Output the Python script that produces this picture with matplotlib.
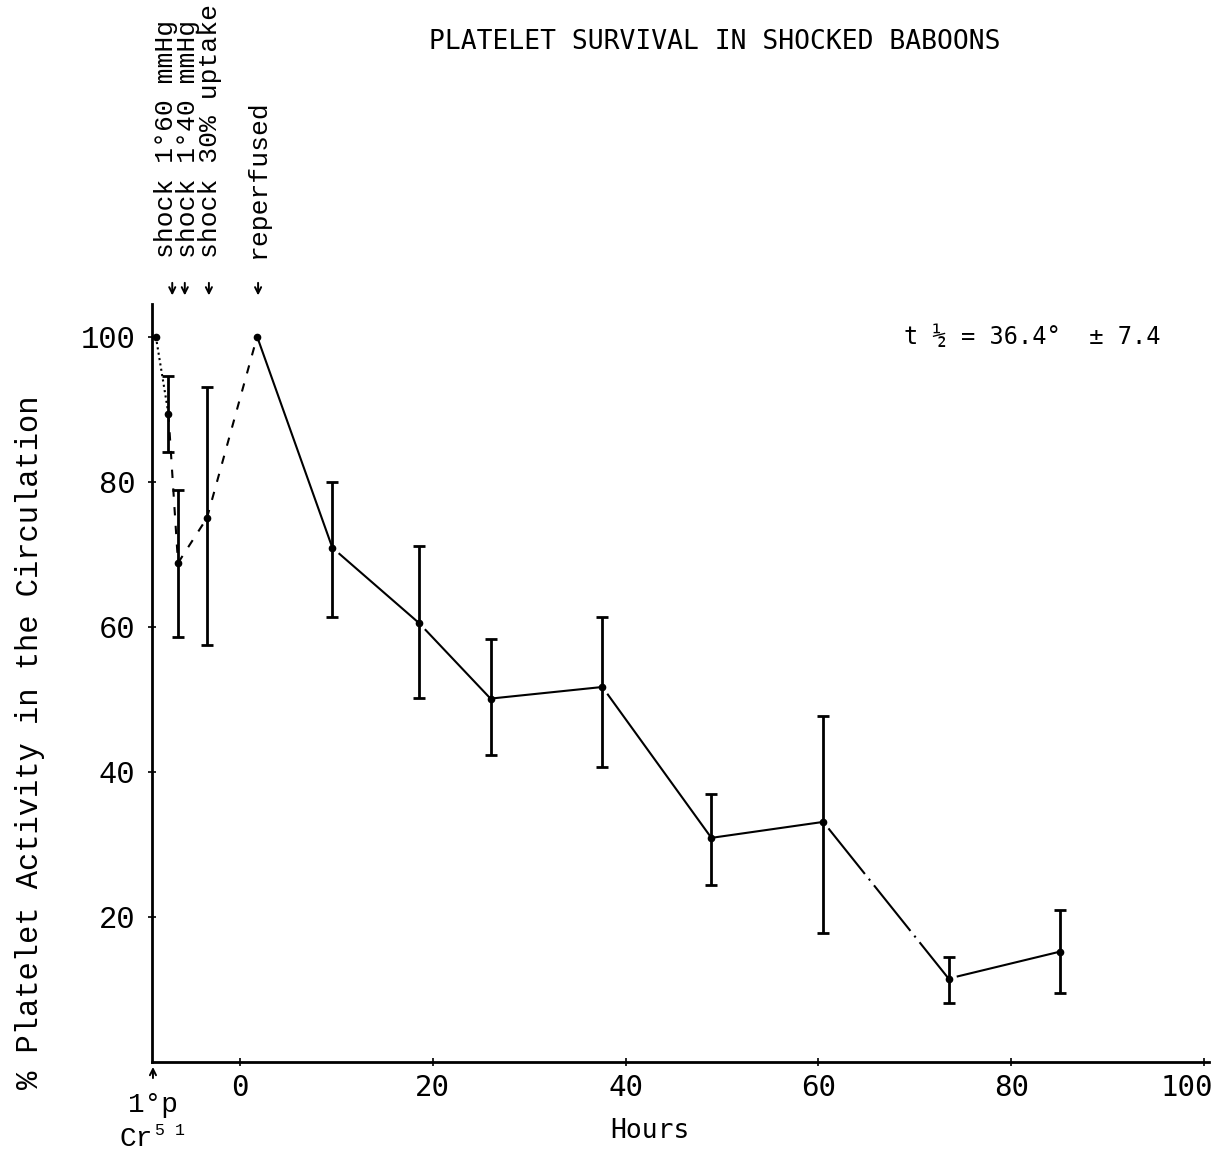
import numpy as np
import matplotlib
matplotlib.use("Agg")
import matplotlib.pyplot as plt
from matplotlib.transforms import ScaledTranslation

# mean platelet activity (% of injected) vs. hours after reperfusion
hours = [-8.7, -7.4, -6.4, -3.4, 1.8, 9.6, 18.6, 26.0, 37.6, 48.9, 60.5, 73.5, 85.0]
activity = [100, 89.4, 68.8, 75.0, 100, 70.9, 60.5, 50.1, 51.7, 30.9, 33.1, 11.5, 15.2]
# range bars (upper / lower ends), nan where the point has no bar
bar_top = [np.nan, 94.6, 78.9, 93.1, np.nan, 79.9, 71.2, 58.3, 61.4, 36.9, 47.7, 14.5, 21.0]
bar_low = [np.nan, 84.1, 58.6, 57.5, np.nan, 61.4, 50.2, 42.3, 40.7, 24.4, 17.8, 8.1, 9.5]

# one line style per joining segment
dotdash_long = (0, (1, 3, 200, 3))
seg_styles = [(0, (1, 1.6)), (0, (4, 5)), (0, (4, 5)), (0, (4, 5)), "-",
              dotdash_long, dotdash_long, "-", dotdash_long,
              "-", (0, (1, 3, 28, 3)), dotdash_long]

event_labels = ["shock 1\u00b060 mmHg", "shock 1\u00b040 mmHg",
                "shock 30% uptake", "reperfused"]
event_text_x = [-7.7, -5.4, -3.1, 1.9]
event_arrow_x = [-7.0, -5.7, -3.2, 1.9]

xticks = [0, 20, 40, 60, 80, 100]
yticks = [20, 40, 60, 80, 100]

MONO = "Liberation Mono"
GOTHIC = "DejaVu Sans Mono"

fig = plt.figure(figsize=(12.19, 11.69), dpi=100)
ax = fig.add_axes([152 / 1219, 1 - 1062 / 1169, (1209 - 152) / 1219, (1062 - 304) / 1169])

hrs = np.array(hours)
act = np.array(activity)
top = np.array(bar_top)
low = np.array(bar_low)

for i, ls in enumerate(seg_styles):
    ax.plot(hrs[i:i + 2], act[i:i + 2], color="black", lw=1.5, linestyle=ls,
            clip_on=False, dash_capstyle="butt")

has_bar = ~np.isnan(top)
ax.errorbar(hrs[has_bar], act[has_bar],
            yerr=[act[has_bar] - low[has_bar], top[has_bar] - act[has_bar]],
            fmt="none", ecolor="black", elinewidth=2, capsize=4, capthick=2)
ax.plot(hrs, act, "o", color="black", ms=4.5, clip_on=False)

ax.set_xlim(-9.1, 100.5)
ax.set_ylim(0, 104.5)
for side in ["top", "right"]:
    ax.spines[side].set_visible(False)
ax.spines["left"].set_linewidth(2)
ax.spines["bottom"].set_linewidth(2)

ax.set_xticks(xticks)
ax.set_yticks(yticks)
ax.tick_params(axis="both", direction="inout", length=6, width=1.2)
ax.tick_params(axis="y", pad=9)
ax.tick_params(axis="x", pad=6)
for lab in ax.get_yticklabels():
    lab.set_fontfamily(MONO)
    lab.set_fontsize(22)
for lab in ax.get_xticklabels():
    lab.set_fontfamily(GOTHIC)
    lab.set_fontsize(21)
# last hour label sits a little left of its tick
last = ax.get_xticklabels()[-1]
last.set_transform(last.get_transform() + ScaledTranslation(-0.17, 0, fig.dpi_scale_trans))

# event markers above the plot
for x, lab in zip(event_text_x, event_labels):
    ax.text(x, 110.8, lab, rotation=90, ha="center", va="bottom",
            family=MONO, fontsize=19, clip_on=False)
for x in event_arrow_x:
    ax.annotate("", xy=(x, 105.3), xytext=(x, 107.8), annotation_clip=False,
                arrowprops=dict(arrowstyle="->", color="black", lw=1.4,
                                mutation_scale=11))

# injection marker under the origin
ax.annotate("", xy=(-9.0, -0.3), xytext=(-9.0, -2.6), annotation_clip=False,
            arrowprops=dict(arrowstyle="->", color="black", lw=1.4, mutation_scale=11))
ax.text(-9.0, -5.9, "1\u00b0p", ha="center", va="center", family=MONO,
        fontsize=20, clip_on=False)
ax.text(-9.0, -10.6, "Cr", ha="right", va="center", family=MONO,
        fontsize=20, clip_on=False)
ax.text(-8.8, -9.4, "5 1", ha="left", va="center", family=MONO,
        fontsize=12, clip_on=False)

ax.text(68.9, 100, "t \u00bd = 36.4\u00b0  \u00b1 7.4", ha="left", va="center",
        family=GOTHIC, fontsize=17)

fig.text(715 / 1219, 1 - 42 / 1169, "PLATELET SURVIVAL IN SHOCKED BABOONS",
         ha="center", va="center", family=GOTHIC, fontsize=19)
fig.text(650 / 1219, 1 - 1131 / 1169, "Hours", ha="center", va="center",
         family=GOTHIC, fontsize=19)
fig.text(30 / 1219, 1 - 742 / 1169, "% Platelet Activity in the Circulation",
         rotation=90, ha="center", va="center", family=MONO, fontsize=22)

fig.savefig("out.png", dpi=100)
